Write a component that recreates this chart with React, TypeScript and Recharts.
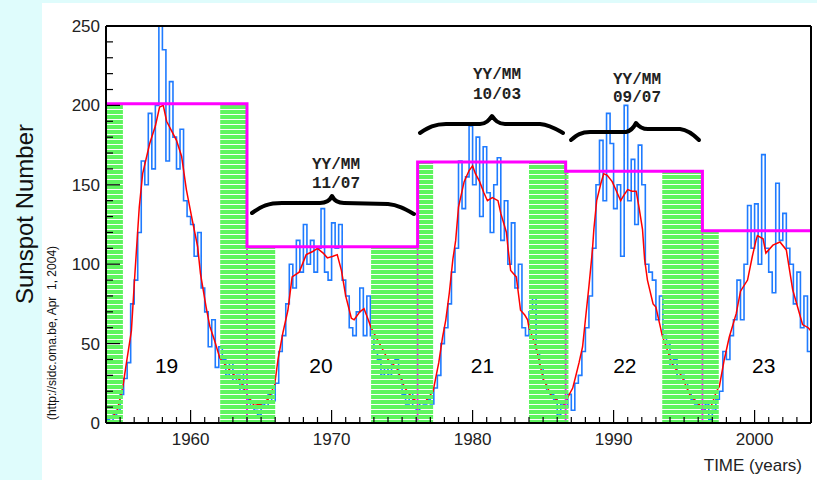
import React from 'react';
import { ComposedChart, Line, XAxis, YAxis, ReferenceArea, ReferenceLine, ReferenceDot } from 'recharts';

// monthly sunspot number (1954.00 .. 2004.00)
const blueStart = 1954;
const blueStep = 0.25;
const blueValues = [
  2, 0, 5, 8,
  18, 28, 38, 75,
  90, 120, 165, 150,
  195, 160, 200, 253,
  235, 165, 215, 180,
  160, 185, 140, 130,
  125, 105, 120, 85,
  70, 48, 65, 35,
  48, 40, 30, 38,
  25, 30, 20, 32,
  15, 10, 8, 5,
  12, 10, 18, 14,
  25, 45, 55, 75,
  100, 85, 115, 95,
  125, 100, 115, 95,
  110, 135, 95, 90,
  126, 110, 125, 90,
  80, 60, 55, 70,
  85, 55, 80, 55,
  45, 40, 30, 35,
  30, 38, 40, 28,
  18, 12, 20, 10,
  8, 14, 12, 15,
  12, 22, 30, 50,
  60, 75, 95, 110,
  165, 135, 155, 187,
  150, 180, 130, 174,
  145, 120, 150, 167,
  115, 140, 100, 126,
  85, 100, 60, 55,
  70, 80, 45, 35,
  25, 20, 18, 15,
  5, 12, 10, 18,
  8, 25, 30, 45,
  60, 80, 110, 150,
  178, 140, 195, 176,
  135, 150, 105, 200,
  140, 166, 125, 175,
  150, 100, 95, 90,
  65, 80, 55, 50,
  35, 40, 28, 30,
  25, 20, 15, 12,
  10, 8, 12, 2,
  8, 15, 20, 45,
  40, 55, 65, 90,
  65, 100, 137, 110,
  138, 100, 169, 110,
  95, 82, 151, 115,
  132, 110, 100, 75,
  95, 60, 80, 45,
  60,
];

// smoothed sunspot number
const redYears = [
  1954.0, 1954.4, 1954.8, 1955.2, 1955.4, 1955.8, 1956.05, 1956.36, 1956.6, 1957.1,
  1957.5, 1957.8, 1958.06, 1958.3, 1958.65, 1959.0, 1959.36, 1959.7, 1960.07, 1960.5,
  1960.7, 1961.1, 1961.36, 1961.7, 1962.07, 1962.5, 1963.0, 1963.5, 1964.0, 1964.5,
  1965.0, 1965.5, 1965.96, 1966.2, 1966.55, 1966.9, 1967.2, 1967.7, 1968.2, 1968.66,
  1969.0, 1969.4, 1969.7, 1970.1, 1970.4, 1970.7, 1971.0, 1971.4, 1971.6, 1972.0,
  1972.3, 1972.6, 1972.8, 1973.4, 1974.0, 1974.6, 1975.2, 1975.8, 1976.2, 1976.7,
  1977.2, 1977.4, 1977.6, 1977.87, 1978.1, 1978.35, 1978.6, 1978.8, 1979.0, 1979.4,
  1979.75, 1980.0, 1980.2, 1980.5, 1980.8, 1981.05, 1981.4, 1981.8, 1982.0, 1982.4,
  1982.5, 1982.7, 1983.1, 1983.4, 1983.7, 1983.9, 1984.0, 1984.5, 1985.0, 1985.6,
  1986.2, 1986.5, 1986.8, 1987.1, 1987.3, 1987.55, 1987.8, 1988.0, 1988.25, 1988.5,
  1988.6, 1988.8, 1989.1, 1989.3, 1989.55, 1989.9, 1990.15, 1990.5, 1990.7, 1991.0,
  1991.3, 1991.6, 1991.8, 1992.05, 1992.2, 1992.4, 1992.8, 1993.0, 1993.25, 1993.45,
  1994.2, 1994.8, 1995.4, 1995.9, 1996.4, 1996.9, 1997.3, 1997.5, 1997.85, 1998.2,
  1998.7, 1999.0, 1999.5, 1999.84, 2000.1, 2000.2, 2000.6, 2000.8, 2001.3, 2001.8,
  2002.25, 2002.7, 2003.05, 2003.4, 2003.8, 2004.0,
];
const redValues = [
  5, 3, 8, 23, 35, 58, 94, 136, 157, 176,
  187, 199, 200, 190, 184, 178, 168, 147, 130, 111,
  94, 73, 61, 52, 41, 36, 31, 27, 18, 11,
  12, 15, 24, 40, 57, 71, 92, 95, 106, 108,
  110, 107, 104, 105, 106, 96, 80, 66, 65, 70,
  72, 65, 60, 50, 40, 35, 22, 15, 13, 14,
  20, 29, 38, 54, 65, 82, 103, 115, 136, 152,
  159, 162, 157, 152, 145, 140, 142, 140, 132, 120,
  111, 96, 92, 71, 68, 65, 60, 48, 28, 17,
  13, 12, 17, 22, 29, 38, 48, 65, 86, 109,
  122, 140, 151, 157, 156, 152, 147, 140, 143, 147,
  146, 146, 136, 122, 103, 90, 75, 73, 63, 55,
  36, 30, 18, 13, 9, 10, 20, 23, 40, 54,
  69, 83, 90, 105, 115, 118, 116, 107, 112, 114,
  109, 84, 73, 62, 60, 58,
];

// maximum of each cycle (magenta steps)
const maxYears = [1954, 1964, 1976.1, 1986.6, 1996.3, 2004];
const maxValues = [201, 111, 164.4, 158.5, 121, 121];

// hatched minimum periods
const hatchFrom = [1954, 1962.1, 1964, 1972.8, 1976.1, 1984.0, 1986.6, 1993.45, 1996.3];
const hatchTo = [1955.2, 1964, 1966.0, 1976.1, 1977.2, 1986.6, 1986.8, 1996.3, 1997.46];
const hatchTop = [201, 201, 111, 111, 164.4, 164.4, 158.5, 158.5, 121];

const cycleNames = ['19', '20', '21', '22', '23'];
const cycleYears = [1958.3, 1969.25, 1980.7, 1990.8, 2000.65];

const yearTicks = Array.from({ length: 51 }, (_, i) => 1954 + i);
const yTicks = Array.from({ length: 26 }, (_, i) => i * 10);

const blueData = blueValues.map((v, i) => ({ t: blueStart + i * blueStep, v }));
const redData = redYears.map((t, i) => ({ t, v: redValues[i] }));
const maxData = maxYears.map((t, i) => ({ t, v: maxValues[i] }));

const FONT = '"Liberation Sans", Arial, sans-serif';
const MONO = '"Liberation Mono", "Courier New", monospace';
const GREEN = '#5ff55f';
const MAGENTA = '#ff00ff';
const LABEL_GAP = 10;

// ticks point inward, long ones at each decade / each 50
const BottomTick = (props: any) => {
  const { x, y, payload } = props;
  const major = payload.value % 10 === 0;
  const y0 = y - LABEL_GAP;
  return (
    <g>
      <line x1={x} x2={x} y1={y0} y2={y0 - (major ? 13 : 6)} stroke="#000" strokeWidth={1.2} />
      {major && (
        <text x={x} y={y} dy="0.71em" textAnchor="middle" fill="#222" fontSize={17} fontFamily={FONT}>
          {payload.value}
        </text>
      )}
    </g>
  );
};

const TopTick = (props: any) => {
  const { x, y, payload } = props;
  const major = payload.value % 10 === 0;
  return <line x1={x} x2={x} y1={y} y2={y + (major ? 13 : 6)} stroke="#000" strokeWidth={1.2} />;
};

const LeftTick = (props: any) => {
  const { x, y, payload } = props;
  const major = payload.value % 50 === 0;
  const x0 = x + 6;
  return (
    <g>
      <line x1={x0} x2={x0 + (major ? 14 : 7)} y1={y} y2={y} stroke="#000" strokeWidth={1.2} />
      {major && (
        <text x={x} y={y} dy="0.355em" textAnchor="end" fill="#222" fontSize={17} fontFamily={FONT}>
          {payload.value}
        </text>
      )}
    </g>
  );
};

const RightTick = (props: any) => {
  const { x, y, payload } = props;
  const major = payload.value % 50 === 0;
  return <line x1={x} x2={x - (major ? 15 : 7)} y1={y} y2={y} stroke="#000" strokeWidth={1.2} />;
};

export default function App() {
  return (
    <div style={{ position: 'absolute', left: 0, top: 0, width: 817, height: 480, background: '#dffcfc', overflow: 'hidden' }}>
      <svg width={0} height={0} style={{ position: 'absolute' }}>
        <defs>
          <pattern id="hatch" patternUnits="userSpaceOnUse" width={10} height={5}>
            <rect x={0} y={0} width={10} height={4} fill={GREEN} shapeRendering="crispEdges" />
          </pattern>
        </defs>
      </svg>
      <div style={{ position: 'absolute', left: 42, top: 3, width: 775, height: 477, background: '#fff' }} />

      <div style={{ position: 'absolute', left: 0, top: 0 }}>
        <ComposedChart width={817} height={480} margin={{ top: 25, right: 5, bottom: 0, left: 0 }}>
          <XAxis
            dataKey="t"
            type="number"
            domain={[1954, 2004]}
            allowDataOverflow
            ticks={yearTicks}
            interval={0}
            height={57}
            tickSize={0}
            tickMargin={LABEL_GAP}
            tickLine={false}
            axisLine={{ stroke: '#000', strokeWidth: 2 }}
            tick={<BottomTick />}
          />
          <XAxis
            xAxisId="top"
            type="number"
            domain={[1954, 2004]}
            ticks={yearTicks}
            interval={0}
            orientation="top"
            height={1}
            tickSize={0}
            tickMargin={0}
            tickLine={false}
            axisLine={{ stroke: '#000', strokeWidth: 2 }}
            tick={<TopTick />}
          />
          <YAxis
            type="number"
            domain={[0, 250]}
            allowDataOverflow
            ticks={yTicks}
            interval={0}
            width={106}
            tickSize={0}
            tickMargin={6}
            tickLine={false}
            axisLine={{ stroke: '#000', strokeWidth: 2 }}
            tick={<LeftTick />}
          />
          <YAxis
            yAxisId="right"
            type="number"
            domain={[0, 250]}
            ticks={yTicks}
            interval={0}
            orientation="right"
            width={1}
            tickSize={0}
            tickMargin={0}
            tickLine={false}
            axisLine={{ stroke: '#000', strokeWidth: 2 }}
            tick={<RightTick />}
          />

          <Line data={blueData} dataKey="v" type="stepAfter" stroke="#1f7bff" strokeWidth={1.6} dot={false} isAnimationActive={false} zIndex={400} />
          <Line data={redData} dataKey="v" type="linear" stroke="#ff0000" strokeWidth={1.5} dot={false} isAnimationActive={false} zIndex={401} />

          {maxYears.slice(1, 5).map((t, i) => (
            <ReferenceLine
              key={`v${i}`}
              segment={[{ x: t, y: 0 }, { x: t, y: Math.min(maxValues[i], maxValues[i + 1]) }]}
              stroke={MAGENTA}
              strokeWidth={2}
              zIndex={402}
            />
          ))}

          {hatchFrom.map((x1, i) => (
            <ReferenceArea
              key={`h${i}`}
              x1={x1}
              x2={hatchTo[i]}
              y1={0}
              y2={hatchTop[i]}
              fill="url(#hatch)"
              fillOpacity={1}
              stroke="none"
              zIndex={450}
            />
          ))}

          <Line data={maxData} dataKey="v" type="stepAfter" stroke={MAGENTA} strokeWidth={3} dot={false} isAnimationActive={false} zIndex={460} />

          {cycleNames.map((name, i) => (
            <ReferenceDot
              key={name}
              x={cycleYears[i]}
              y={36}
              r={0}
              fill="none"
              stroke="none"
              label={{ value: name, position: 'center', fill: '#000', fontSize: 21, fontFamily: FONT }}
            />
          ))}
        </ComposedChart>
      </div>

      <svg width={817} height={480} style={{ position: 'absolute', left: 0, top: 0, pointerEvents: 'none' }}>
        <text x={33} y={214} transform="rotate(-90 33 214)" textAnchor="middle" fontSize={24} fontFamily={FONT} fill="#111">
          Sunspot Number
        </text>
        <text x={56} y={333} transform="rotate(-90 56 333)" textAnchor="middle" fontSize={12} fontFamily={FONT} fill="#111" style={{ whiteSpace: 'pre' }}>
          (http://sidc.oma.be, Apr  1, 2004)
        </text>
        <text x={802} y={471} textAnchor="end" fontSize={17} fontFamily={FONT} fill="#222">
          TIME (years)
        </text>

        <g fill="none" stroke="#000" strokeWidth={4} strokeLinecap="round" strokeLinejoin="round">
          <path d="M252,213 C262,206 268,203 282,203 L320,203 C327,203 330,200 332,196 C334,200 337,203 344,203 L388,204 C398,205 405,209 414,214" />
          <path d="M420,133 C428,128 434,124 446,124 L480,124 C486,124 489,120 492,116 C495,120 498,124 505,124 L540,124 C550,125 556,129 563,133" />
          <path d="M571,140 C577,135 581,132 590,132 L626,132 C631,131 634,127 636,123 C639,127 642,129 648,129 L680,129 C688,130 693,134 699,140" />
        </g>
        <g fontFamily={MONO} fontWeight="bold" fontSize={16} fill="#222" textAnchor="middle">
          <text x={336} y={169}>YY/MM</text>
          <text x={336} y={188}>11/07</text>
          <text x={497} y={79}>YY/MM</text>
          <text x={497} y={99}>10/03</text>
          <text x={637} y={84}>YY/MM</text>
          <text x={637} y={102}>09/07</text>
        </g>
      </svg>
    </div>
  );
}
